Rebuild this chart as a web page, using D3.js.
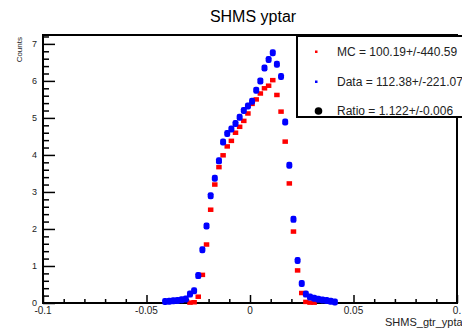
<!DOCTYPE html>
<html>
<head>
<meta charset="utf-8">
<script src="https://cdn.jsdelivr.net/npm/d3@7"></script>
<style>
  body { margin: 0; background: #fff; }
  text { font-family: "Liberation Sans", Arial, sans-serif; }
</style>
</head>
<body>
<div id="graph"></div>
<script>
// bin centres (width 0.002) for the filled region
let binsMC = [-0.029, -0.027, -0.025, -0.023, -0.021, -0.019, -0.017, -0.015, -0.013, -0.011,
  -0.009, -0.007, -0.005, -0.003, -0.001, 0.001, 0.003, 0.005, 0.007, 0.009,
  0.011, 0.013, 0.015, 0.017, 0.019, 0.021, 0.023, 0.025, 0.027, 0.029, 0.031];
let valuesMC = [0.01, 0.02, 0.17, 0.76, 1.58, 2.52, 3.2, 3.67, 3.99, 4.23,
  4.38, 4.6, 4.76, 4.92, 5.12, 5.38, 5.5, 5.66, 5.8, 5.87,
  6.02, 5.62, 5.17, 4.36, 3.23, 1.93, 0.88, 0.27, 0.03, 0.01, 0.01];

let binsData = [-0.041, -0.039, -0.037, -0.035, -0.033, -0.031, -0.029, -0.027, -0.025, -0.023,
  -0.021, -0.019, -0.017, -0.015, -0.013, -0.011, -0.009, -0.007, -0.005, -0.003,
  -0.001, 0.001, 0.003, 0.005, 0.007, 0.009, 0.011, 0.013, 0.015, 0.017,
  0.019, 0.021, 0.023, 0.025, 0.027, 0.029, 0.031, 0.033, 0.035, 0.037, 0.039, 0.041];
let valuesData = [0.04, 0.05, 0.06, 0.07, 0.09, 0.11, 0.24, 0.33, 0.74, 1.44,
  2.08, 2.9, 3.37, 3.84, 4.35, 4.58, 4.7, 4.85, 5.02, 5.2,
  5.32, 5.45, 5.75, 6.0, 6.35, 6.58, 6.76, 6.45, 6.12, 4.89,
  3.72, 2.26, 1.15, 0.53, 0.24, 0.16, 0.13, 0.1, 0.08, 0.07, 0.05, 0.03];

let xTicks = [-0.1, -0.05, 0, 0.05, 0.1];
let xTickLabels = ["-0.1", "-0.05", "0", "0.05", "0."];
let yTicks = [0, 1, 2, 3, 4, 5, 6, 7];

let legendLabels = ["MC = 100.19+/-440.59", "Data = 112.38+/-221.07", "Ratio = 1.122+/-0.006"];

let largeur = 462, hauteur = 329;
let cadre = {gauche: 43, droit: 457, haut: 35, bas: 303};

let svg = d3.select("#graph").append("svg")
    .attr("width", largeur)
    .attr("height", hauteur);

let echelleX = d3.scaleLinear().domain([-0.1, 0.1]).range([cadre.gauche, cadre.droit]);
let echelleY = d3.scaleLinear().domain([0, 7.24]).range([cadre.bas, cadre.haut]);

// titre
svg.append("text")
    .attr("x", 253).attr("y", 22)
    .attr("text-anchor", "middle")
    .style("font-size", "16px")
    .text("SHMS yptar");

// axe X : ticks vers le haut (style ROOT)
let axeX = d3.axisTop(echelleX)
    .tickValues(d3.range(-0.1, 0.1001, 0.01))
    .tickSize(4)
    .tickFormat("");
let gX = svg.append("g")
    .attr("transform", "translate(0," + cadre.bas + ")")
    .call(axeX);
gX.select(".domain").remove();
gX.selectAll(".tick line").attr("stroke", "#000").attr("stroke-width", 1.5)
    .attr("y2", function(d) { return Math.abs(Math.round(d * 100) % 5) === 0 ? -8 : -4; });

svg.selectAll(".xlab")
    .data(xTicks)
    .enter().append("text")
    .attr("class", "xlab")
    .attr("x", function(d) { return echelleX(d); })
    .attr("y", 314)
    .attr("text-anchor", "middle")
    .style("font-size", "10px")
    .attr("fill", "#222")
    .text(function(d, i) { return xTickLabels[i]; });

// axe Y : ticks vers la droite
let axeY = d3.axisRight(echelleY)
    .tickValues(d3.range(0, 7.21, 0.2))
    .tickSize(6)
    .tickFormat("");
let gY = svg.append("g")
    .attr("transform", "translate(" + cadre.gauche + ",0)")
    .call(axeY);
gY.select(".domain").remove();
gY.selectAll(".tick line").attr("stroke", "#000").attr("stroke-width", 1.5)
    .attr("x2", function(d) { return Math.abs(Math.round(d * 5) % 5) === 0 ? 12 : 6; });

svg.selectAll(".ylab")
    .data(yTicks)
    .enter().append("text")
    .attr("class", "ylab")
    .attr("x", 37)
    .attr("y", function(d) { return echelleY(d); })
    .attr("dy", "0.35em")
    .attr("text-anchor", "end")
    .style("font-size", "9px")
    .attr("fill", "#222")
    .text(function(d) { return d; });

// cadre
svg.append("rect")
    .attr("x", cadre.gauche).attr("y", cadre.haut)
    .attr("width", cadre.droit - cadre.gauche)
    .attr("height", cadre.bas - cadre.haut)
    .attr("fill", "none")
    .attr("stroke", "#000")
    .attr("stroke-width", 2);

// titres des axes
svg.append("text")
    .attr("transform", "translate(22," + 37 + ") rotate(-90)")
    .attr("text-anchor", "end")
    .style("font-size", "8px")
    .attr("fill", "#222")
    .text("Counts");

svg.append("text")
    .attr("x", 385).attr("y", 326)
    .style("font-size", "11px")
    .attr("fill", "#222")
    .text("SHMS_gtr_yptar");

// points MC (rouge) puis Data (bleu)
svg.selectAll(".mc")
    .data(binsMC)
    .enter().append("rect")
    .attr("class", "mc")
    .attr("x", function(d) { return echelleX(d) - 2.75; })
    .attr("y", function(d, i) { return echelleY(valuesMC[i]) - 2.25; })
    .attr("width", 5.5).attr("height", 4.5)
    .attr("fill", "#ff0000");

svg.selectAll(".data")
    .data(binsData)
    .enter().append("rect")
    .attr("class", "data")
    .attr("x", function(d) { return echelleX(d) - 3; })
    .attr("y", function(d, i) { return echelleY(valuesData[i]) - 3.5; })
    .attr("width", 6).attr("height", 7)
    .attr("rx", 2.2)
    .attr("fill", "#0000ff");

// légende
let legende = svg.append("g");
legende.append("rect")
    .attr("x", 297).attr("y", 36)
    .attr("width", 180).attr("height", 81)
    .attr("fill", "#fff")
    .attr("stroke", "#000")
    .attr("stroke-width", 2);

let legendeY = [51.5, 81.5, 111];
legende.append("rect").attr("x", 315).attr("y", legendeY[0] - 1).attr("width", 2.5).attr("height", 2.5).attr("fill", "#ff0000");
legende.append("rect").attr("x", 315).attr("y", legendeY[1] - 1).attr("width", 2.5).attr("height", 2.5).attr("fill", "#0000ff");
legende.append("circle").attr("cx", 318.5).attr("cy", legendeY[2]).attr("r", 3.8).attr("fill", "#000");

legende.selectAll(".leg")
    .data(legendLabels)
    .enter().append("text")
    .attr("class", "leg")
    .attr("x", 337)
    .attr("y", function(d, i) { return legendeY[i]; })
    .attr("dy", "0.35em")
    .style("font-size", "12px")
    .attr("fill", "#222")
    .text(function(d) { return d; });
</script>
</body>
</html>
